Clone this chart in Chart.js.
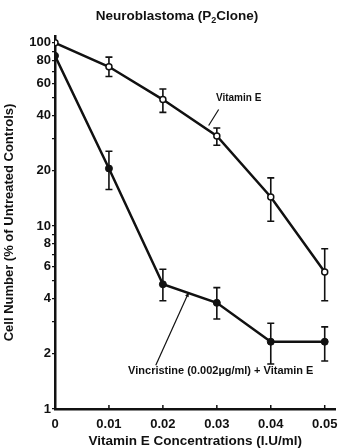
<!DOCTYPE html>
<html>
<head>
<meta charset="utf-8">
<script src="https://cdn.jsdelivr.net/npm/chart.js@4"></script>
<style>
  html, body { margin: 0; padding: 0; background: #fff; }
  #wrap { width: 341px; height: 448px; }
</style>
</head>
<body>
<div id="wrap"><canvas id="myChart" width="341" height="448"></canvas></div>
<script>
// concentrations of vitamin E (I.U/ml)
const concentrations = [0, 0.01, 0.02, 0.03, 0.04, 0.05];

// Vitamin E alone (open circles), % of untreated controls
const vitaminE = [100, 74, 49, 31, 14.4, 5.6];
const vitaminELow = [97, 65.5, 41.7, 27.6, 10.6, 3.9];
const vitaminEHigh = [103, 83.6, 56, 34.3, 18.3, 7.5];

// Vincristine (0.002 ug/ml) + Vitamin E (filled circles)
const vincristine = [85, 20.6, 4.8, 3.8, 2.33, 2.33];
const vincristineLow = [79, 15.8, 3.9, 3.1, 1.76, 1.83];
const vincristineHigh = [92, 25.6, 5.8, 4.6, 2.94, 2.81];

// axis ticks
const xTicks = [0, 0.01, 0.02, 0.03, 0.04, 0.05];
const yTickMarks = [1, 2, 3, 4, 5, 6, 7, 8, 9, 10, 20, 30, 40, 50, 60, 70, 80, 90, 100];
const yTickLabels = [1, 2, 4, 6, 8, 10, 20, 40, 60, 80, 100];

const ink = '#111';
const font = 'Arial, "Liberation Sans", sans-serif';

const errorBars = {
    id: 'errorBars',
    beforeDatasetsDraw(chart) {
        const ctx = chart.ctx;
        const xs = chart.scales.x, ys = chart.scales.y;
        const sets = [[vitaminELow, vitaminEHigh], [vincristineLow, vincristineHigh]];
        ctx.save();
        ctx.strokeStyle = ink;
        ctx.lineWidth = 1.6;
        sets.forEach(function(s) {
            concentrations.forEach(function(c, i) {
                const x = xs.getPixelForValue(c);
                const y1 = ys.getPixelForValue(s[0][i]);
                const y2 = ys.getPixelForValue(s[1][i]);
                ctx.beginPath();
                ctx.moveTo(x, y1); ctx.lineTo(x, y2);
                if (c > 0) {
                    ctx.moveTo(x - 3.5, y1); ctx.lineTo(x + 3.5, y1);
                    ctx.moveTo(x - 3.5, y2); ctx.lineTo(x + 3.5, y2);
                }
                ctx.stroke();
            });
        });
        ctx.restore();
    },
    afterDraw(chart) {
        const ctx = chart.ctx;
        const xs = chart.scales.x, ys = chart.scales.y;
        const area = chart.chartArea;
        ctx.save();
        ctx.strokeStyle = ink;
        ctx.fillStyle = ink;

        // inner x tick marks
        ctx.lineWidth = 1.5;
        xTicks.slice(1).forEach(function(v) {
            const x = xs.getPixelForValue(v);
            ctx.beginPath();
            ctx.moveTo(x, area.bottom);
            ctx.lineTo(x, area.bottom - 4);
            ctx.stroke();
        });

        // title with subscript
        ctx.textBaseline = 'alphabetic';
        ctx.textAlign = 'left';
        const big = 'bold 13.5px ' + font;
        const small = 'bold 9px ' + font;
        const parts = [['Neuroblastoma (P', big, 0], ['2', small, 3], ['Clone)', big, 0]];
        let total = 0;
        parts.forEach(function(p) { ctx.font = p[1]; total += ctx.measureText(p[0]).width; });
        let tx = 177 - total / 2;
        parts.forEach(function(p) {
            ctx.font = p[1];
            ctx.fillText(p[0], tx, 20 + p[2]);
            tx += ctx.measureText(p[0]).width;
        });

        // leader for Vitamin E
        ctx.font = 'bold 10px ' + font;
        ctx.textAlign = 'center';
        const vx = xs.getPixelForValue(0.0283);
        const vy = ys.getPixelForValue(34.5);
        ctx.fillText('Vitamin E', vx + 31, vy - 26);
        ctx.lineWidth = 1.2;
        ctx.beginPath();
        ctx.moveTo(vx + 11, vy - 18);
        ctx.lineTo(vx + 1, vy - 2);
        ctx.stroke();

        // leader for Vincristine
        ctx.font = 'bold 11px ' + font;
        const wx = xs.getPixelForValue(0.0248);
        const wy = ys.getPixelForValue(4.45);
        ctx.fillText('Vincristine (0.002\u00b5g/ml) + Vitamin E', wx + 32, wy + 84);
        ctx.beginPath();
        ctx.moveTo(wx - 33, wy + 75);
        ctx.lineTo(wx, wy + 2);
        ctx.stroke();
        const ang = Math.atan2(73, -33);
        ctx.beginPath();
        ctx.moveTo(wx, wy + 2);
        ctx.lineTo(wx + 5 * Math.cos(ang - 0.4), wy + 2 + 5 * Math.sin(ang - 0.4));
        ctx.lineTo(wx + 5 * Math.cos(ang + 0.4), wy + 2 + 5 * Math.sin(ang + 0.4));
        ctx.closePath();
        ctx.fill();

        ctx.restore();
    }
};

const ctx = document.getElementById('myChart').getContext('2d');
const chart = new Chart(ctx, {
    type: 'line',
    data: {
        datasets: [{
            label: 'Vitamin E',
            data: concentrations.map(function(c, i) { return { x: c, y: vitaminE[i] }; }),
            borderColor: ink,
            borderWidth: 2.5,
            pointRadius: 3,
            pointBackgroundColor: '#fff',
            pointBorderColor: ink,
            pointBorderWidth: 1.5,
            tension: 0
        }, {
            label: 'Vincristine (0.002\u00b5g/ml) + Vitamin E',
            data: concentrations.map(function(c, i) { return { x: c, y: vincristine[i] }; }),
            borderColor: ink,
            borderWidth: 2.5,
            pointRadius: 3.5,
            pointBackgroundColor: ink,
            pointBorderColor: ink,
            pointBorderWidth: 1,
            tension: 0
        }]
    },
    options: {
        responsive: false,
        animation: false,
        layout: { padding: { top: 36, right: 3, left: 0, bottom: 0 } },
        plugins: {
            legend: { display: false },
            tooltip: { enabled: false }
        },
        scales: {
            x: {
                type: 'linear',
                min: 0,
                max: 0.052,
                afterBuildTicks: function(s) { s.ticks = xTicks.map(function(v) { return { value: v }; }); },
                afterFit: function(s) { s.height = 39; },
                border: { display: true, color: ink, width: 2.5 },
                grid: { display: false },
                ticks: {
                    autoSkip: false,
                    maxRotation: 0,
                    padding: 0,
                    color: ink,
                    font: { family: font, size: 13, weight: 'bold' },
                    callback: function(v) { return v === 0 ? '0' : v.toFixed(2); }
                },
                title: {
                    display: true,
                    text: 'Vitamin E Concentrations (I.U/ml)',
                    color: ink,
                    padding: { top: 0, bottom: 0 },
                    font: { family: font, size: 13.5, weight: 'bold', lineHeight: 1 }
                }
            },
            y: {
                type: 'logarithmic',
                min: 1,
                max: 109,
                afterBuildTicks: function(s) { s.ticks = yTickMarks.map(function(v) { return { value: v }; }); },
                afterFit: function(s) { s.width = 55; },
                border: { display: true, color: ink, width: 2.5 },
                grid: { display: true, drawOnChartArea: false, drawTicks: true, tickLength: 3, color: ink, lineWidth: 1.2 },
                ticks: {
                    autoSkip: false,
                    padding: 1,
                    color: ink,
                    font: { family: font, size: 13, weight: 'bold' },
                    callback: function(v) { return yTickLabels.indexOf(v) >= 0 ? String(v) : ''; }
                },
                title: {
                    display: true,
                    text: 'Cell Number (% of Untreated Controls)',
                    color: ink,
                    padding: { top: 3, bottom: 0 },
                    font: { family: font, size: 13, weight: 'bold', lineHeight: 1 }
                }
            }
        }
    },
    plugins: [errorBars]
});
</script>
</body>
</html>
